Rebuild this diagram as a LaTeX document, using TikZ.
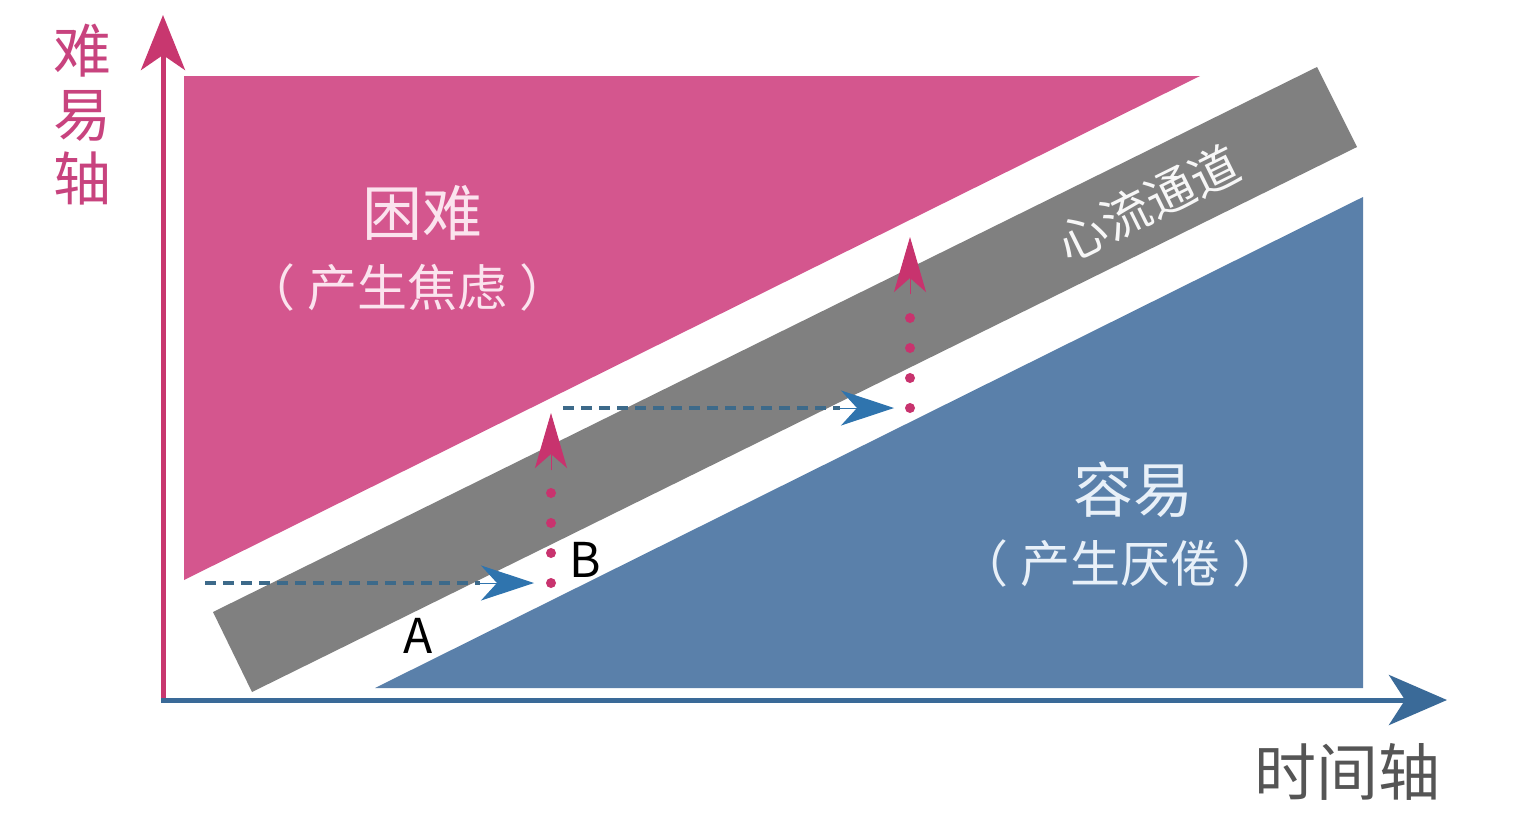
\documentclass[tikz,border=0pt]{standalone}
\usepackage{fontspec}
\newfontfamily\cjk{Noto Sans CJK SC}
\usetikzlibrary{arrows.meta}
\definecolor{hardpink}{HTML}{D4568E}
\definecolor{easyblue}{HTML}{5A80AA}
\definecolor{bandgray}{HTML}{808080}
\definecolor{axispink}{HTML}{C8376F}
\definecolor{axisblue}{HTML}{3A6A98}
\definecolor{dashblue}{HTML}{3D6A8A}
\definecolor{tipblue}{HTML}{2F74AE}
\definecolor{dotpink}{HTML}{C8336E}
\definecolor{hardtext}{HTML}{FBE3EE}
\definecolor{easytext}{HTML}{E8F0F8}
\definecolor{labelpink}{HTML}{C8437E}
\definecolor{labelgray}{HTML}{555555}
\tikzset{
  bigtxt/.style={font=\cjk\fontsize{60}{62}\selectfont, inner sep=0pt},
  subtxt/.style={font=\cjk\fontsize{50}{52}\selectfont, inner sep=0pt},
  axtxt/.style={font=\cjk\fontsize{58}{64}\selectfont, inner sep=0pt, align=center},
  lettertxt/.style={font=\cjk\fontsize{48}{50}\selectfont, inner sep=0pt, text=black},
  dashmove/.style={draw=dashblue, line width=4pt, dash pattern=on 11pt off 7pt},
  dotmove/.style={draw=dotpink, line width=10pt, line cap=round, dash pattern=on 0pt off 30pt},
  bluetip/.style={-{Stealth[length=53pt,width=35pt,inset=16pt]}, draw=tipblue, fill=tipblue, line width=1pt},
  pinktip/.style={-{Stealth[length=55pt,width=32pt,inset=14pt]}, draw=dotpink, fill=dotpink, line width=1pt},
}
\begin{document}
\begin{tikzpicture}[x=1pt,y=-1pt]
\useasboundingbox (0,0) rectangle (1534,828);
\fill[white] (0,0) rectangle (1534,828);
% regions
\fill[hardpink] (184,76) -- (1200,76) -- (184,580) -- cycle;
\fill[easyblue] (375,688) -- (1363,688) -- (1363,197) -- cycle;
\fill[bandgray] (213,612) -- (1317,67) -- (1357,147) -- (252,692) -- cycle;
% axes
\coordinate (O) at (163,700);
\coordinate (ytip) at (163,15);
\coordinate (xtip) at (1447,700);
\draw[line width=5pt, axispink, -{Stealth[length=55pt,width=44pt,inset=15pt]}] (163,702) -- (ytip);
\draw[line width=5pt, axisblue, -{Stealth[length=58pt,width=50pt,inset=16pt]}] (161,700) -- (xtip);
% axis labels
\node[axtxt, text=labelpink] (ylab) at (82,115) {难\\易\\轴};
\node[axtxt, text=labelgray, font=\cjk\fontsize{62}{64}\selectfont] (xlab) at (1347,772) {时间轴};
% region labels
\node[bigtxt, text=hardtext] (hard) at (422,213) {困难};
\node[subtxt, text=hardtext] (hardsub) at (407,287) {（\hspace{12pt}产生焦虑\hspace{12pt}）};
\node[bigtxt, text=easytext] (easy) at (1133,490) {容易};
\node[subtxt, text=easytext] (easysub) at (1120,563) {（\hspace{12pt}产生厌倦\hspace{12pt}）};
\node[font=\cjk\fontsize{49}{50}\selectfont, inner sep=0pt, text=white!94!gray, rotate=26.3] (flow) at (1148,203) {心流通道};
% letters
\node[lettertxt] (A) at (418,636) {A};
\node[lettertxt] (B) at (585,560) {B};
% moves
\coordinate (s1) at (205,583);
\coordinate (e1) at (480,583);
\coordinate (t1) at (534,583);
\coordinate (p1) at (551,583);
\coordinate (p1e) at (551,493);
\coordinate (p1b) at (551,470);
\coordinate (p1t) at (551,413);
\coordinate (s2) at (563,408);
\coordinate (e2) at (840,408);
\coordinate (t2) at (894,408);
\coordinate (p2) at (910,408);
\coordinate (p2e) at (910,317);
\coordinate (p2b) at (910,294);
\coordinate (p2t) at (910,237);
\draw[dashmove] (s1) -- (e1);
\draw[bluetip] (e1) -- (t1);
\draw[dotmove] (p1) -- (p1e);
\draw[pinktip] (p1b) -- (p1t);
\draw[dashmove] (s2) -- (e2);
\draw[bluetip] (e2) -- (t2);
\draw[dotmove] (p2) -- (p2e);
\draw[pinktip] (p2b) -- (p2t);
\end{tikzpicture}
\end{document}
